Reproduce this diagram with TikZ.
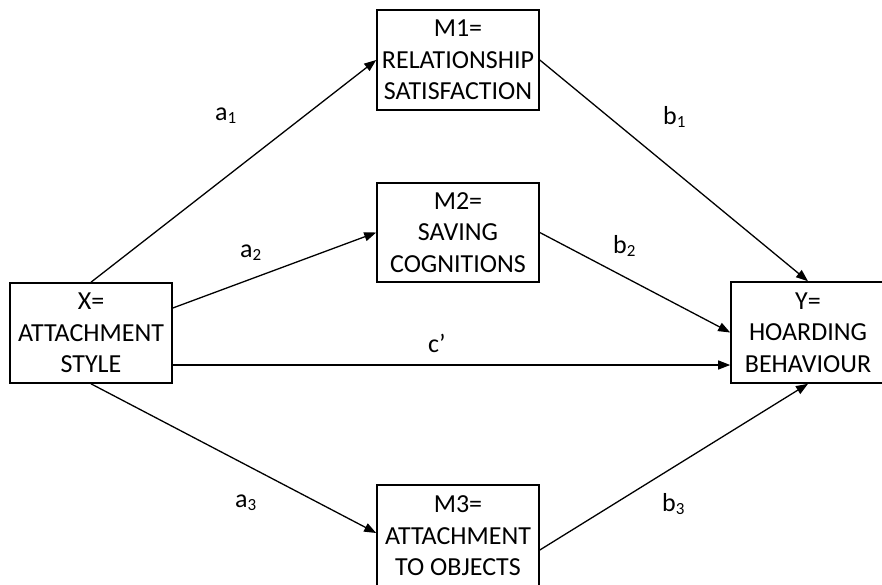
\documentclass[tikz,border=0pt]{standalone}
\usepackage{fontspec}
\setmainfont{Carlito}
\usetikzlibrary{arrows.meta}
\newcommand{\lbl}[2]{#1\raisebox{-3pt}{\fontsize{17}{17}\selectfont #2}}
\tikzset{
  varbox/.style={draw=black, line width=1.6pt, align=center, inner sep=0pt,
    font=\fontsize{26}{31.5}\selectfont, fill=white},
  path/.style={line width=1.3pt, -{Triangle[length=12pt,width=9pt]}},
  coef/.style={anchor=base west, inner sep=0pt, font=\fontsize{26}{31}\selectfont}
}
\begin{document}
\begin{tikzpicture}[x=1pt,y=-1pt]
\useasboundingbox (0,0) rectangle (882,584);
\clip (0,0) rectangle (882,584);
\fill[white] (0,0) rectangle (882,584);
\node[varbox, minimum width=162pt, minimum height=100pt] (X) at (91,333) {X=\\ATTACHMENT\\STYLE};
\node[varbox, minimum width=162pt, minimum height=100pt] (M1) at (458,60) {M1=\\RELATIONSHIP\\SATISFACTION};
\node[varbox, minimum width=162pt, minimum height=99pt] (M2) at (458,232.5) {M2=\\SAVING\\COGNITIONS};
\node[varbox, minimum width=162pt, minimum height=102pt] (M3) at (458,536) {M3=\\ATTACHMENT\\TO OBJECTS};
\node[varbox, minimum width=154pt, minimum height=101pt] (Y) at (808,332.5) {Y=\\HOARDING\\BEHAVIOUR};
\draw[path] (X.north) -- (M1.west);
\draw[path] ([yshift=25pt]X.east) -- (M2.west);
\draw[path] ([yshift=-32pt]X.east) -- ([yshift=-32pt]X.east -| Y.west);
\draw[path] (X.south) -- ([yshift=3pt]M3.west);
\draw[path] (M1.east) -- (Y.north);
\draw[path] (M2.east) -- (Y.west);
\draw[path] ([yshift=-14pt]M3.east) -- (Y.south);
\node[coef] (la1) at (215,120) {\lbl{a}{1}};
\node[coef] (la2) at (240,257) {\lbl{a}{2}};
\node[coef] (la3) at (235,507) {\lbl{a}{3}};
\node[coef] (lb1) at (663,124) {\lbl{b}{1}};
\node[coef] (lb2) at (613,253) {\lbl{b}{2}};
\node[coef] (lb3) at (662,511) {\lbl{b}{3}};
\node[coef] (lc) at (428,352) {c’};
\end{tikzpicture}
\end{document}
